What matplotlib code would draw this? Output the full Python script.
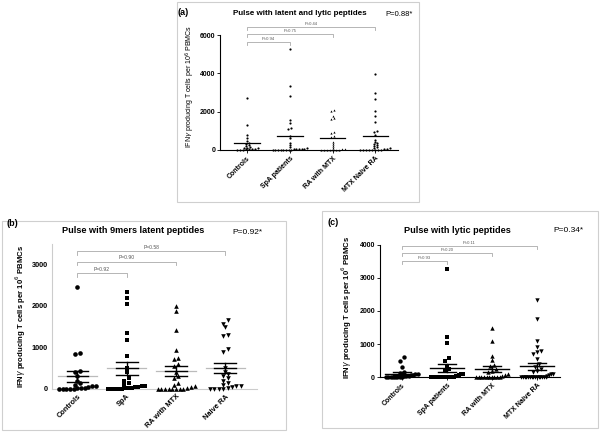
import matplotlib
matplotlib.use("Agg")
import matplotlib.pyplot as plt
from matplotlib.patches import Rectangle
import numpy as np

plt.rcParams["font.family"] = ["Liberation Sans", "DejaVu Sans"]

# ---- data ----
groups_a = ["Controls", "SpA patients", "RA with MTX", "MTX Naive RA"]
groups_b = ["Controls", "SpA", "RA with MTX", "Naive RA"]
groups_c = ["Controls", "SpA patients", "RA with MTX", "MTX Naive RA"]

a_ctrl = [2700, 1300, 800, 600, 450, 380, 300, 250, 200, 150, 120, 100, 80, 60, 50, 30, 20, 10, 0, 0]
a_spa = [5300, 3350, 2800, 1550, 1400, 1150, 1100, 700, 600, 350, 250, 150, 80, 60, 50,
         40, 30, 20, 10, 0, 0, 0, 0, 0, 0, 0]
a_ra = [2100, 2050, 1750, 1650, 1600, 950, 900, 700, 650, 400, 300, 200, 100, 50, 20,
        0, 0, 0, 0, 0, 0, 0]
a_mtx = [3950, 3000, 2650, 2050, 1750, 1450, 1000, 950, 800, 500, 400, 350, 300, 250, 200,
         150, 100, 80, 50, 30, 0, 0, 0, 0, 0, 0, 0, 0]

b_ctrl = [2450, 870, 840, 430, 400, 300, 200, 150, 100, 80, 60, 40, 30, 20, 10, 0, 0, 0, 0, 0]
b_spa = [2340, 2200, 2050, 1350, 1180, 800, 500, 400, 250, 200, 150, 100, 80, 60, 50,
         40, 30, 20, 10, 0, 0, 0, 0, 0]
b_ra = [2000, 1880, 1420, 930, 750, 720, 600, 550, 400, 300, 250, 150, 100, 80, 50,
        30, 0, 0, 0, 0, 0, 0, 0, 0]
b_naive = [1650, 1570, 1480, 1290, 1280, 970, 900, 500, 400, 350, 300, 250, 200, 150, 100,
           80, 60, 40, 20, 0, 0, 0, 0]

c_ctrl = [600, 500, 300, 150, 120, 100, 80, 60, 50, 40, 30, 20, 10, 0, 0, 0, 0, 0, 0, 0]
c_spa = [3280, 1200, 1020, 570, 480, 330, 250, 200, 100, 80, 50, 30, 20, 10,
         0, 0, 0, 0, 0, 0, 0, 0, 0, 0, 0, 0, 0, 0]
c_ra = [1500, 1080, 650, 520, 380, 340, 250, 200, 150, 100, 50, 30, 0, 0, 0, 0, 0, 0, 0, 0, 0, 0]
c_mtx = [2320, 1760, 1100, 900, 780, 750, 700, 550, 400, 300, 250, 200, 150, 100, 80,
         50, 30, 0, 0, 0, 0, 0, 0, 0, 0, 0, 0, 0, 0, 0, 0, 0]

pvals_a = ["P=0.94", "P=0.75", "P=0.44"]
pvals_b = ["P=0.92", "P=0.90", "P=0.58"]
pvals_c = ["P=0.93", "P=0.20", "P=0.11"]
bracket_a = [5650, 6050, 6420]
bracket_b = [2800, 3070, 3320]
bracket_c = [3510, 3760, 3970]


def swarm(vals, dx, ythr, maxw):
    # group close values into rows and spread each row sideways
    vals = np.asarray(vals, float)
    order = np.argsort(vals)
    xs = np.zeros(len(vals))
    rows, cur = [], [order[0]]
    for i in order[1:]:
        if vals[i] - vals[cur[0]] < ythr:
            cur.append(i)
        else:
            rows.append(cur)
            cur = [i]
    rows.append(cur)
    for r in rows:
        n = len(r)
        w = min((n - 1) * dx, maxw)
        xs[r] = np.linspace(-w / 2, w / 2, n) if n > 1 else 0
    return xs


def brackets(ax, heights, labels, tick, color, fs):
    for j, (h, lab) in enumerate(zip(heights, labels)):
        ax.plot([0, 0, j + 1, j + 1], [h - tick, h, h, h - tick], color=color, lw=0.6,
                clip_on=False)
        ax.text((j + 1) / 2, h + tick * 0.3, lab, ha="center", va="bottom", fontsize=fs,
                color="#555555")


fig = plt.figure(figsize=(6, 4.33), dpi=100)
box_col = "#cfcfcf"
for r in [(0.295, 0.533, 0.403, 0.462), (0.003, 0.007, 0.474, 0.483), (0.537, 0.012, 0.46, 0.5)]:
    fig.add_artist(Rectangle(r[:2], r[2], r[3], transform=fig.transFigure, fill=False,
                             edgecolor=box_col, lw=0.8))

ylab = "IFN$\\gamma$ producing T cells per 10$^6$ PBMCs"

# ---- panel (a) ----
axa = fig.add_axes([0.367, 0.654, 0.297, 0.291])
data_a = [a_ctrl, a_spa, a_ra, a_mtx]
for i, d in enumerate(data_a):
    d = np.array(d, float)
    xs = swarm(d, 0.07, 90, 0.8)
    axa.scatter(i + xs, d, s=2.5, color="black", marker="o" if i != 2 else "^", lw=0,
                clip_on=False, zorder=3)
    axa.plot([i - 0.3, i + 0.3], [d.mean()] * 2, color="black", lw=0.9)
axa.set_xlim(-0.63, 3.54)
axa.set_ylim(0, 6600)
axa.spines[["top", "right"]].set_visible(False)
axa.spines["left"].set_bounds(0, 6000)
axa.set_yticks([0, 2000, 4000, 6000])
axa.set_xticks(range(4))
axa.set_xticklabels(groups_a, rotation=45, ha="right", rotation_mode="anchor",
                    fontsize=5, fontweight="bold")
axa.tick_params(axis="y", labelsize=5, length=2, width=0.6, pad=1.5)
axa.tick_params(axis="x", length=2, width=0.6, pad=1.5)
for t in axa.get_yticklabels():
    t.set_fontweight("bold")
axa.set_ylabel(ylab, fontsize=5, labelpad=2)
brackets(axa, bracket_a, pvals_a, 150, "#aaaaaa", 3)
fig.text(0.5, 0.968, "Pulse with latent and lytic peptides", ha="center", va="center",
         fontsize=5.8, fontweight="bold")
fig.text(0.642, 0.966, "P=0.88*", ha="left", va="center", fontsize=5.5)
fig.text(0.296, 0.972, "(a)", ha="left", va="center", fontsize=6.5, fontweight="bold")

# ---- panel (b) ----
axb = fig.add_axes([0.087, 0.102, 0.342, 0.335])
markers = ["o", "s", "^", "v"]
data_b = [b_ctrl, b_spa, b_ra, b_naive]
for i, d in enumerate(data_b):
    d = np.array(d, float)
    xs = swarm(d, 0.09, 90, 0.75)
    axb.scatter(i + xs, d, s=11, color="black", marker=markers[i], lw=0, clip_on=False, zorder=3)
    m = d.mean()
    se = d.std(ddof=1) / np.sqrt(len(d))
    axb.plot([i - 0.4, i + 0.4], [m, m], color="#bbbbbb", lw=0.9, zorder=2)
    axb.plot([i - 0.22, i + 0.22], [m, m], color="black", lw=1.0, zorder=4)
    axb.plot([i, i], [m - se, m + se], color="black", lw=1.0, zorder=4)
    for y in (m - se, m + se):
        axb.plot([i - 0.22, i + 0.22], [y, y], color="black", lw=1.0, zorder=4)
axb.set_xlim(-0.51, 3.65)
axb.set_ylim(0, 3500)
axb.spines[["top", "right"]].set_visible(False)
for s in ["left", "bottom"]:
    axb.spines[s].set_color("#cccccc")
axb.set_yticks([0, 1000, 2000, 3000])
axb.set_xticks(range(4))
axb.set_xticklabels(groups_b, rotation=45, ha="right", rotation_mode="anchor",
                    fontsize=5.3, fontweight="bold")
axb.tick_params(axis="both", labelsize=5.3, length=0, pad=3)
for t in axb.get_yticklabels():
    t.set_fontweight("bold")
axb.set_ylabel(ylab, fontsize=5.6, fontweight="bold", labelpad=3)
brackets(axb, bracket_b, pvals_b, 90, "#aaaaaa", 3.6)
fig.text(0.222, 0.467, "Pulse with 9mers latent peptides", ha="center", va="center",
         fontsize=6.6, fontweight="bold")
fig.text(0.387, 0.462, "P=0.92*", ha="left", va="center", fontsize=6)
fig.text(0.011, 0.484, "(b)", ha="left", va="center", fontsize=6.5, fontweight="bold")

# ---- panel (c) ----
axc = fig.add_axes([0.633, 0.129, 0.3, 0.321])
data_c = [c_ctrl, c_spa, c_ra, c_mtx]
for i, d in enumerate(data_c):
    d = np.array(d, float)
    xs = swarm(d, 0.09, 110, 0.7)
    axc.scatter(i + xs, d, s=10, color="black", marker=markers[i], lw=0, clip_on=False, zorder=3)
    m = d.mean()
    se = d.std(ddof=1) / np.sqrt(len(d))
    axc.plot([i - 0.38, i + 0.38], [m, m], color="black", lw=1.0, zorder=4)
    axc.plot([i, i], [m - se, m + se], color="black", lw=1.0, zorder=4)
    for y in (m - se, m + se):
        axc.plot([i - 0.2, i + 0.2], [y, y], color="black", lw=1.0, zorder=4)
axc.set_xlim(-0.49, 3.51)
axc.set_ylim(0, 4200)
axc.spines[["top", "right"]].set_visible(False)
axc.spines["left"].set_bounds(0, 4000)
axc.set_yticks([0, 1000, 2000, 3000, 4000])
axc.set_xticks(range(4))
axc.set_xticklabels(groups_c, rotation=45, ha="right", rotation_mode="anchor",
                    fontsize=5, fontweight="bold")
axc.tick_params(axis="y", labelsize=5, length=2, width=0.6, pad=1.5)
axc.tick_params(axis="x", length=2, width=0.6, pad=1.5)
for t in axc.get_yticklabels():
    t.set_fontweight("bold")
axc.set_ylabel(ylab, fontsize=5.6, fontweight="bold", labelpad=4)
brackets(axc, bracket_c, pvals_c, 90, "#aaaaaa", 3)
fig.text(0.762, 0.467, "Pulse with lytic peptides", ha="center", va="center",
         fontsize=6.6, fontweight="bold")
fig.text(0.922, 0.468, "P=0.34*", ha="left", va="center", fontsize=6)
fig.text(0.545, 0.485, "(c)", ha="left", va="center", fontsize=6.5, fontweight="bold")

fig.savefig("out.png", dpi=100)
